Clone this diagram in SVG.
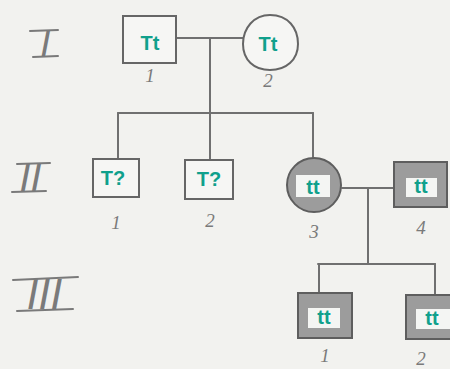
<svg xmlns="http://www.w3.org/2000/svg" width="450" height="369" viewBox="0 0 450 369">
<style>
.pen{fill:none;stroke:#707070;stroke-width:2;stroke-linecap:round;stroke-linejoin:round}
.bar{fill:none;stroke:#7a7a7a;stroke-width:2;stroke-linecap:round}
.box{fill:#f6f6f4;stroke:#666;stroke-width:2}
.aff{fill:#9c9c9c;stroke:#5e5e5e;stroke-width:2}
.in{fill:#f4f5f3;stroke:none}
.geno{font-family:"Liberation Sans",Arial,sans-serif;font-weight:bold;font-size:20px;fill:#10a08c;text-anchor:middle}
.num{font-family:"Liberation Serif","Times New Roman",serif;font-style:italic;font-size:19px;fill:#7a7a7a;text-anchor:middle}
.rom{font-family:"DejaVu Sans ExtraLight","DejaVu Sans","Liberation Sans",sans-serif;font-weight:200;font-style:italic;fill:#7a7a7a;text-anchor:middle}
</style>
<rect width="450" height="369" fill="#f2f2ef"/>
<g id="gen-labels">
<text class="rom" x="46" y="56" font-size="35">I</text>
<path class="bar" d="M30,31 L58,30 M33,57 L58,56"/>
<text class="rom" x="31" y="191" font-size="37">II</text>
<path class="bar" d="M17,164 L50,163 M12,192 L46,191"/>
<text class="rom" x="45" y="309" font-size="40">III</text>
<path class="bar" d="M13,280 L78,277 M17,311 L73,309"/>
</g>
<g id="connectors" class="pen">
<path d="M177,38 H243"/>
<path d="M210,38 V114"/>
<path d="M118,113 H313"/>
<path d="M118,113 V159"/>
<path d="M210,113 V160"/>
<path d="M313,113 V157"/>
<path d="M342,188 H394"/>
<path d="M368,189 V263"/>
<path d="M318,264 H435"/>
<path d="M319,264 V293"/>
<path d="M435,264 V295"/>
</g>
<g id="I-1">
<rect class="box" x="123" y="16" width="53" height="47"/>
<text class="geno" x="150" y="50">Tt</text>
<text class="num" x="150" y="82">1</text>
</g>
<g id="I-2">
<path class="box" d="M270,15 C288,15 298,28 298,44 C298,60 286,70 270,70 C254,70 243,60 243,44 C243,28 254,15 270,15 Z"/>
<text class="geno" x="268" y="51">Tt</text>
<text class="num" x="268" y="87">2</text>
</g>
<g id="II-1">
<rect class="box" x="93" y="159" width="46" height="38"/>
<text class="geno" x="113" y="185">T?</text>
<text class="num" x="116" y="229">1</text>
</g>
<g id="II-2">
<rect class="box" x="185" y="160" width="48" height="39"/>
<text class="geno" x="209" y="186">T?</text>
<text class="num" x="210" y="227">2</text>
</g>
<g id="II-3">
<circle class="aff" cx="314" cy="185" r="27"/>
<rect class="in" x="296" y="175" width="34" height="22"/>
<text class="geno" x="313" y="194" font-size="22">tt</text>
<text class="num" x="314" y="238">3</text>
</g>
<g id="II-4">
<rect class="aff" x="394" y="162" width="53" height="45"/>
<rect class="in" x="406" y="178" width="31" height="19"/>
<text class="geno" x="421" y="193">tt</text>
<text class="num" x="421" y="234">4</text>
</g>
<g id="III-1">
<rect class="aff" x="298" y="293" width="54" height="45"/>
<rect class="in" x="308" y="308" width="32" height="20"/>
<text class="geno" x="324" y="324">tt</text>
<text class="num" x="325" y="362">1</text>
</g>
<g id="III-2">
<rect class="aff" x="406" y="295" width="50" height="44"/>
<rect class="in" x="416" y="309" width="34" height="20"/>
<text class="geno" x="432" y="325">tt</text>
<text class="num" x="421" y="365">2</text>
</g>
</svg>
